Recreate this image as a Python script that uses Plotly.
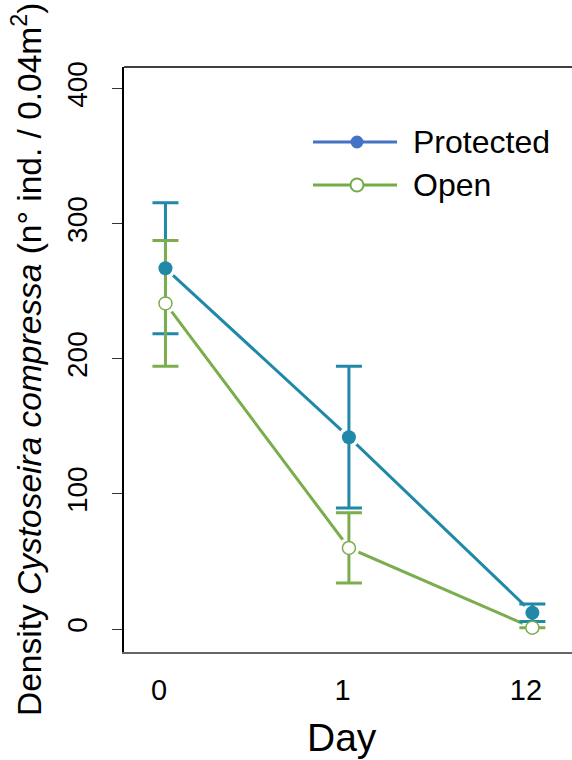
import plotly.graph_objects as go

# ---- data ----
days = ["0", "1", "12"]
day_pos = [1, 2, 3]
protected_mean = [267, 142, 12]
protected_err = [48.5, 52.5, 6.5]
open_mean = [241, 60, 1]
open_err = [46.5, 26, 0]
y_ticks = [0, 100, 200, 300, 400]

# ---- style ----
TEAL = "#1f89a7"
GREEN = "#7bad4f"
LEG_BLUE = "#4472c4"
LEG_GREEN = "#70ad47"
FONT = "Liberation Sans, Arial, sans-serif"
jitter = 0.035
xp = [p + jitter for p in day_pos]

fig = go.Figure()

# connecting lines
for ys, col in [(protected_mean, TEAL), (open_mean, GREEN)]:
    fig.add_trace(go.Scatter(x=xp, y=ys, mode="lines",
                             line=dict(color=col, width=3), hoverinfo="skip"))
# white halos to create gap between line and marker
for ys in [protected_mean, open_mean]:
    fig.add_trace(go.Scatter(x=xp, y=ys, mode="markers",
                             marker=dict(size=21, color="white"), hoverinfo="skip"))
# error bars
for ys, es, col in [(protected_mean, protected_err, TEAL), (open_mean, open_err, GREEN)]:
    fig.add_trace(go.Scatter(x=xp, y=ys, mode="markers",
                             marker=dict(size=1, color="rgba(0,0,0,0)"),
                             error_y=dict(type="data", array=es, visible=True,
                                          color=col, thickness=3, width=13)))
# markers
fig.add_trace(go.Scatter(x=xp, y=protected_mean, mode="markers", name="Protected",
                         marker=dict(size=14, color=TEAL, line=dict(width=0))))
fig.add_trace(go.Scatter(x=xp, y=open_mean, mode="markers", name="Open",
                         marker=dict(size=13, color="white", line=dict(width=1.5, color=GREEN))))

# ---- legend drawn manually ----
def px_x(px):
    return (px - 124) / 448.0

def px_y(py):
    return (652 - py) / 585.0

shapes = []
annotations = []
for label, col, filled, py in [("Protected", LEG_BLUE, True, 142), ("Open", LEG_GREEN, False, 185)]:
    shapes.append(dict(type="line", xref="paper", yref="paper",
                       x0=px_x(313), x1=px_x(397), y0=px_y(py), y1=px_y(py),
                       line=dict(color=col, width=3)))
    shapes.append(dict(type="circle", xref="paper", yref="paper",
                       xsizemode="pixel", ysizemode="pixel",
                       xanchor=px_x(357), yanchor=px_y(py),
                       x0=-6.5, x1=6.5, y0=-6.5, y1=6.5,
                       fillcolor=col if filled else "white",
                       line=dict(color=col, width=0 if filled else 2)))
    annotations.append(dict(text=label, xref="paper", yref="paper",
                            x=px_x(411), y=px_y(py), xanchor="left", yanchor="middle",
                            showarrow=False, font=dict(size=32, color="black", family=FONT)))

# top border
shapes.append(dict(type="line", xref="paper", yref="paper", x0=0, x1=1, y0=1, y1=1,
                   line=dict(color="black", width=1.5)))

annotations.append(dict(text="Density <i>Cystoseira compressa</i> (n° ind. / 0.04m<sup>2</sup>)",
                        xref="paper", yref="paper", x=px_x(27), y=px_y(360),
                        xanchor="center", yanchor="middle", textangle=-90, showarrow=False,
                        font=dict(size=33.5, color="black", family=FONT)))
annotations.append(dict(text="Day", xref="paper", yref="paper", x=px_x(342), y=px_y(737),
                        xanchor="center", yanchor="middle", showarrow=False,
                        font=dict(size=39, color="black", family=FONT)))

fig.update_layout(
    width=572, height=760,
    margin=dict(l=124, r=0, t=67, b=108),
    paper_bgcolor="white", plot_bgcolor="white",
    showlegend=False,
    shapes=shapes, annotations=annotations,
    font=dict(family=FONT, color="black"),
    xaxis=dict(range=[0.809, 3.251], tickmode="array", tickvals=day_pos, ticktext=days,
               showgrid=False, zeroline=False, showline=True, linecolor="#666666", linewidth=1.5,
               ticks="", tickfont=dict(size=29, color="black"), ticklabelstandoff=11,
               fixedrange=True),
    yaxis=dict(range=[-17, 416], tickmode="array", tickvals=y_ticks,
               showgrid=False, zeroline=False, showline=True, linecolor="black", linewidth=1.5,
               ticks="outside", ticklen=10, tickcolor="#333333", tickwidth=1,
               tickangle=-90, tickfont=dict(size=28, color="black"), ticklabelstandoff=14,
               fixedrange=True),
)

fig.write_html("out.html", config={"displayModeBar": False},
               post_script="document.body.style.margin='0';document.body.style.overflow='hidden';")
